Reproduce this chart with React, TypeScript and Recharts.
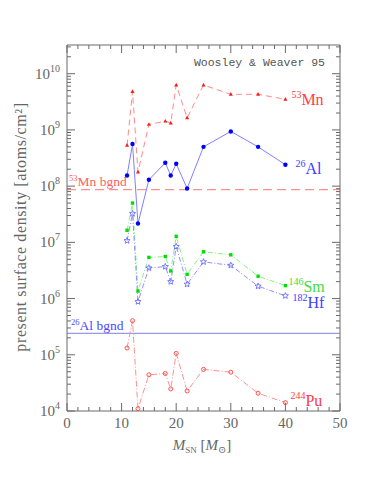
import { ComposedChart, Line, XAxis, YAxis, ReferenceLine, LabelList } from 'recharts';

// Woosley & Weaver 1995 models
const MASS = [11, 12, 13, 15, 18, 19, 20, 22, 25, 30, 35, 40];
const MN53 = [5.3e8, 4.8e9, 1.78e8, 1.25e9, 1.43e9, 1.32e9, 6.3e9, 1.64e9, 6.3e9, 4.3e9, 4.3e9, 3.5e9];
const AL26 = [1.55e8, 5.6e8, 2.16e7, 1.3e8, 2.6e8, 1.55e8, 2.5e8, 9.1e7, 5.0e8, 9.4e8, 5.0e8, 2.4e8];
const SM146 = [1.64e7, 5.0e7, 1.36e6, 5.4e6, 5.6e6, 3.1e6, 1.28e7, 2.7e6, 6.8e6, 6.0e6, 2.5e6, 1.7e6];
const HF182 = [1.07e7, 3.25e7, 8.8e5, 3.5e6, 3.7e6, 2.0e6, 8.4e6, 1.8e6, 4.5e6, 3.9e6, 1.66e6, 1.12e6];
const PU244 = [1.32e5, 4.05e5, 1.1e4, 4.4e4, 4.65e4, 2.47e4, 1.06e5, 2.27e4, 5.5e4, 4.9e4, 2.07e4, 1.41e4];

const MN_BGND = 8.7e7;
const AL_BGND = 2.41e5;

const X_MAJOR = [0, 10, 20, 30, 40, 50];
const X_MINOR = [0, 2, 4, 6, 8, 10, 12, 14, 16, 18, 20, 22, 24, 26, 28, 30, 32, 34, 36, 38, 40, 42, 44, 46, 48, 50];
const Y_EXP = [4, 5, 6, 7, 8, 9, 10];
const Y_TOP = 3.24e10;

const data = MASS.map((m, i) => ({
  m,
  mn: MN53[i],
  al: AL26[i],
  sm: SM146[i],
  hf: HF182[i],
  pu: PU244[i],
}));

const yTicks: number[] = [];
Y_EXP.forEach((e) => {
  for (let k = 1; k <= 9; k++) {
    const v = k * Math.pow(10, e);
    if (v <= Y_TOP) yTicks.push(v);
  }
});

const FRAME = '#6a6a6a';
const SERIF = '"Liberation Serif", "DejaVu Serif", serif';
const MONO = '"Liberation Mono", "DejaVu Sans Mono", monospace';

const isMajorY = (v: number) => {
  const e = Math.log10(v);
  return Math.abs(e - Math.round(e)) < 1e-6;
};

const LeftTick = ({ x, y, payload }: any) => {
  const major = isMajorY(payload.value);
  return (
    <g>
      <line x1={x} x2={x + (major ? 8 : 4)} y1={y} y2={y} stroke={FRAME} />
      {major && (
        <text x={x - 7} y={y + 5} textAnchor="end" fill="#666" fontFamily={SERIF} fontSize={15}>
          10<tspan dy={-7} fontSize={10}>{Math.round(Math.log10(payload.value))}</tspan>
        </text>
      )}
    </g>
  );
};

const RightTick = ({ x, y, payload }: any) => {
  const major = isMajorY(payload.value);
  return <line x1={x} x2={x - (major ? 8 : 4)} y1={y} y2={y} stroke={FRAME} />;
};

const BottomTick = ({ x, y, payload }: any) => {
  const major = X_MAJOR.includes(payload.value);
  return (
    <g>
      <line x1={x} x2={x} y1={y} y2={y - (major ? 8 : 4)} stroke={FRAME} />
      {major && (
        <text x={x} y={y + 17} textAnchor="middle" fill="#666" fontFamily={SERIF} fontSize={15}>
          {payload.value}
        </text>
      )}
    </g>
  );
};

const TopTick = ({ x, y, payload }: any) => {
  const major = X_MAJOR.includes(payload.value);
  return <line x1={x} x2={x} y1={y} y2={y + (major ? 8 : 4)} stroke={FRAME} />;
};

const starPath = (cx: number, cy: number, r: number) => {
  let d = '';
  for (let i = 0; i < 10; i++) {
    const rr = i % 2 === 0 ? r : r * 0.45;
    const a = -Math.PI / 2 + (i * Math.PI) / 5;
    d += (i === 0 ? 'M' : 'L') + (cx + rr * Math.cos(a)).toFixed(2) + ',' + (cy + rr * Math.sin(a)).toFixed(2);
  }
  return d + 'Z';
};

const TriDot = ({ cx, cy }: any) => (
  <path d={`M${cx},${cy - 2.3}L${cx + 2},${cy + 1.4}L${cx - 2},${cy + 1.4}Z`} fill="#ff1a1a" />
);
const BlueDot = ({ cx, cy }: any) => <circle cx={cx} cy={cy} r={2.2} fill="#0000ff" />;
const GreenDot = ({ cx, cy }: any) => <rect x={cx - 1.7} y={cy - 1.7} width={3.4} height={3.4} fill="#00e000" />;
const StarDot = ({ cx, cy }: any) => <path d={starPath(cx, cy, 3.2)} fill="none" stroke="#5a5aff" strokeWidth={0.8} />;
const PuDot = ({ cx, cy }: any) => <circle cx={cx} cy={cy} r={2} fill="none" stroke="#ff5050" strokeWidth={1} />;

const endLabel = (iso: string, el: string, color: string, dx: number, dy: number) => (props: any) => {
  if (props.index !== MASS.length - 1) return null;
  return (
    <text x={props.x + dx} y={props.y + dy} fill={color} fontFamily={SERIF} fontSize={16}>
      <tspan fontSize={10} dy={-7}>{iso}</tspan>
      <tspan dy={7}>{el}</tspan>
    </text>
  );
};

const bgLabel = (iso: string, color: string, dx: number, dy: number) => (props: any) => {
  const vb = props.viewBox;
  return (
    <text x={vb.x + dx} y={vb.y + dy} fill={color} fontFamily={SERIF} fontSize={13.5}>
      <tspan fontSize={8.5} dy={-5}>{iso}</tspan>
      <tspan dy={5}>{iso === '53' ? 'Mn bgnd' : 'Al bgnd'}</tspan>
    </text>
  );
};

export default function App() {
  return (
    <div style={{ position: 'absolute', left: 0, top: 0, width: 374, height: 500, background: '#fff' }}>
      <ComposedChart width={374} height={500} data={data} margin={{ top: 44, right: 33, bottom: 59, left: 0 }}>
        <XAxis
          xAxisId="b"
          dataKey="m"
          type="number"
          domain={[0, 50]}
          ticks={X_MINOR}
          interval={0}
          tickSize={0}
          tickMargin={0}
          tickLine={false}
          tick={<BottomTick />}
          stroke={FRAME}
          height={30}
          label={{
            content: () => (
              <text x={202} y={450} textAnchor="middle" fill="#666" fontFamily={SERIF} fontSize={15}>
                <tspan fontStyle="italic">M</tspan>
                <tspan fontSize={9} dy={3}>SN</tspan>
                <tspan dy={-3}>{'  ['}</tspan>
                <tspan fontStyle="italic">M</tspan>
                <tspan fontSize={10} dy={3}>⊙</tspan>
                <tspan dy={-3}>]</tspan>
              </text>
            ),
          }}
        />
        <XAxis
          xAxisId="t"
          dataKey="m"
          type="number"
          orientation="top"
          domain={[0, 50]}
          ticks={X_MINOR}
          interval={0}
          tickSize={0}
          tickMargin={0}
          tickLine={false}
          tick={<TopTick />}
          stroke={FRAME}
          height={1}
          label={{
            content: () => (
              <text x={325} y={66} textAnchor="end" fill="#555" fontFamily={MONO} fontSize={11.5}>
                Woosley &amp; Weaver 95
              </text>
            ),
          }}
        />
        <YAxis
          yAxisId="l"
          scale="log"
          domain={[1e4, Y_TOP]}
          allowDataOverflow
          ticks={yTicks}
          interval={0}
          tickSize={0}
          tickMargin={0}
          tickLine={false}
          tick={<LeftTick />}
          stroke={FRAME}
          width={67}
          label={{
            content: () => (
              <text
                x={20}
                y={227}
                transform="rotate(-90 20 227)"
                textAnchor="middle"
                dominantBaseline="central"
                fill="#666"
                fontFamily={SERIF}
                fontSize={16}
                letterSpacing={0.6}
              >
                present surface density [atoms/cm²]
              </text>
            ),
          }}
        />
        <YAxis
          yAxisId="r"
          orientation="right"
          scale="log"
          domain={[1e4, Y_TOP]}
          allowDataOverflow
          ticks={yTicks}
          interval={0}
          tickSize={0}
          tickMargin={0}
          tickLine={false}
          tick={<RightTick />}
          stroke={FRAME}
          width={1}
        />

        <ReferenceLine
          xAxisId="b"
          yAxisId="l"
          y={MN_BGND}
          stroke="#ff9090"
          strokeWidth={1.2}
          strokeDasharray="9 5"
          label={bgLabel('53', '#ff6060', 2, -4)}
        />
        <ReferenceLine
          xAxisId="b"
          yAxisId="l"
          y={AL_BGND}
          stroke="#8080e0"
          label={bgLabel('26', '#4848ff', 4, -3)}
        />

        <Line xAxisId="b" yAxisId="l" dataKey="mn" stroke="#ff8a8a" strokeDasharray="6 4" strokeWidth={1} dot={<TriDot />} isAnimationActive={false}>
          <LabelList dataKey="mn" content={endLabel('53', 'Mn', '#ff4040', 6, 6)} />
        </Line>
        <Line xAxisId="b" yAxisId="l" dataKey="al" stroke="#8080ff" strokeWidth={1} dot={<BlueDot />} isAnimationActive={false}>
          <LabelList dataKey="al" content={endLabel('26', 'Al', '#3c3cff', 10, 9)} />
        </Line>
        <Line xAxisId="b" yAxisId="l" dataKey="sm" stroke="#88f088" strokeDasharray="5 2 1 2" strokeWidth={1} dot={<GreenDot />} isAnimationActive={false}>
          <LabelList dataKey="sm" content={endLabel('146', 'Sm', '#40dd40', 3, 6)} />
        </Line>
        <Line xAxisId="b" yAxisId="l" dataKey="hf" stroke="#9090ff" strokeDasharray="5 2 1 2" strokeWidth={1} dot={<StarDot />} isAnimationActive={false}>
          <LabelList dataKey="hf" content={endLabel('182', 'Hf', '#4040ff', 7, 12)} />
        </Line>
        <Line xAxisId="b" yAxisId="l" dataKey="pu" stroke="#ff9090" strokeDasharray="6 2 1 2" strokeWidth={1} dot={<PuDot />} isAnimationActive={false}>
          <LabelList dataKey="pu" content={endLabel('244', 'Pu', '#ff4040', 5, 3)} />
        </Line>
      </ComposedChart>
    </div>
  );
}
